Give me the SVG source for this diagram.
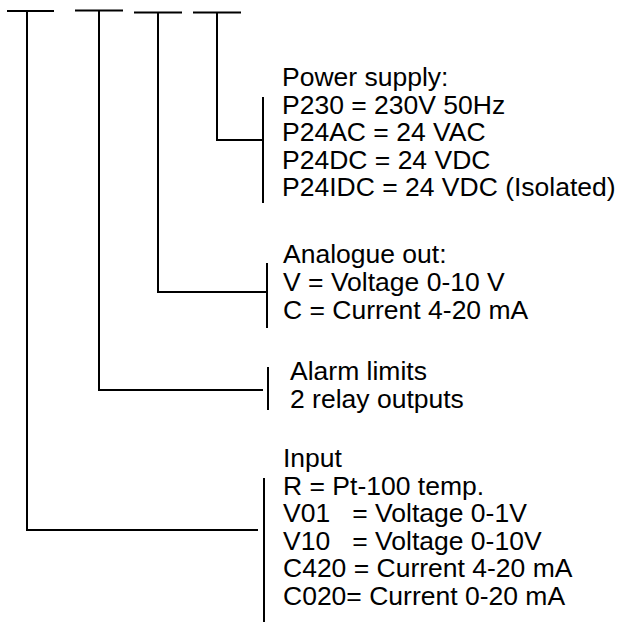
<svg xmlns="http://www.w3.org/2000/svg" width="622" height="622" viewBox="0 0 622 622">
<style>
  .ln { stroke: #000; stroke-width: 2; fill: none; stroke-linecap: butt; }
  .t { font-family: "Liberation Sans", Arial, sans-serif; font-size: 26.5px; fill: #000; }
</style>
<rect width="622" height="622" fill="#fff"/>
<g id="connectors">
  <path class="ln" d="M7 11 H54 M27 11 V530 H258"/>
  <path class="ln" d="M75 10.5 H123 M99 10.5 V390 H263"/>
  <path class="ln" d="M134 12.5 H182 M158 12.5 V292 H266"/>
  <path class="ln" d="M193 12.5 H241 M217 12.5 V140 H263"/>
</g>
<g id="power">
  <path class="ln" d="M263 97 V203"/>
  <text class="t" x="282" y="86">Power supply:</text>
  <text class="t" x="282" y="113.5">P230 = 230V 50Hz</text>
  <text class="t" x="282" y="141">P24AC = 24 VAC</text>
  <text class="t" x="282" y="168.5">P24DC = 24 VDC</text>
  <text class="t" x="282" y="196">P24IDC = 24 VDC (Isolated)</text>
</g>
<g id="analogue">
  <path class="ln" d="M267 263 V328"/>
  <text class="t" x="283" y="263">Analogue out:</text>
  <text class="t" x="283" y="291">V = Voltage 0-10 V</text>
  <text class="t" x="283" y="319">C = Current 4-20 mA</text>
</g>
<g id="alarm">
  <path class="ln" d="M268 367 V410"/>
  <text class="t" x="290" y="380">Alarm limits</text>
  <text class="t" x="290" y="408">2 relay outputs</text>
</g>
<g id="input">
  <path class="ln" d="M264 478 V622"/>
  <text class="t" x="283" y="467">Input</text>
  <text class="t" x="283" y="494.5">R = Pt-100 temp.</text>
  <text class="t" x="283" y="522" xml:space="preserve">V01   = Voltage 0-1V</text>
  <text class="t" x="283" y="549.5" xml:space="preserve">V10   = Voltage 0-10V</text>
  <text class="t" x="283" y="577">C420 = Current 4-20 mA</text>
  <text class="t" x="283" y="604.5">C020= Current 0-20 mA</text>
</g>
</svg>
